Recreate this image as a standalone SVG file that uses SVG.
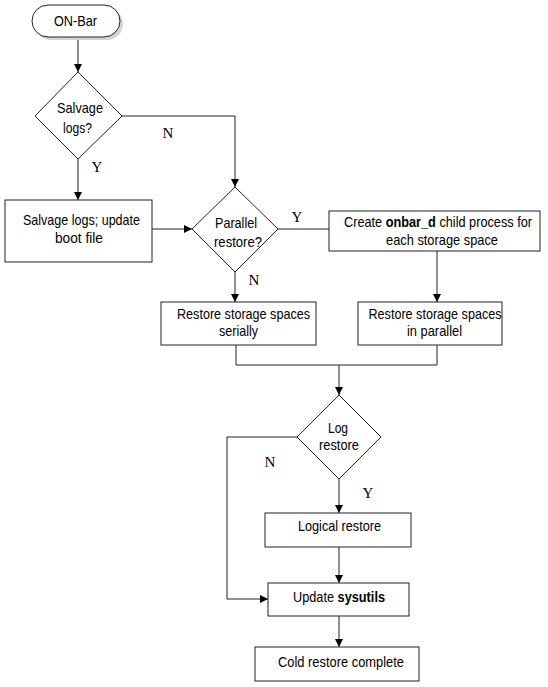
<svg xmlns="http://www.w3.org/2000/svg" width="548" height="687" viewBox="0 0 548 687">
<style>
.box{fill:#fff;stroke:#222;stroke-width:1}
.ln{fill:none;stroke:#222;stroke-width:1}
.t{font-family:"Liberation Sans",Arial,sans-serif;font-size:14.5px;fill:#000;text-anchor:middle}
.s{text-anchor:start}
.b{font-weight:bold}
.lbl{font-family:"Liberation Serif","Times New Roman",serif;font-size:15px;fill:#000;text-anchor:middle}
</style>
<defs>
<marker id="arr" markerUnits="userSpaceOnUse" markerWidth="9" markerHeight="9" refX="8" refY="4" orient="auto">
<path d="M0,0 L8,4 L0,8 z" fill="#000"/>
</marker>
</defs>
<rect width="548" height="687" fill="#fff"/>
<g id="connectors">
<path class="ln" d="M78,37 V72" marker-end="url(#arr)"/>
<path class="ln" d="M78,159 V200" marker-end="url(#arr)"/>
<path class="ln" d="M122,116 H235 V187" marker-end="url(#arr)"/>
<path class="ln" d="M152,229 H192" marker-end="url(#arr)"/>
<path class="ln" d="M278,229 H329"/>
<path class="ln" d="M437,251 V302" marker-end="url(#arr)"/>
<path class="ln" d="M235,272 V302" marker-end="url(#arr)"/>
<path class="ln" d="M236,345 V365 H437 V345"/>
<path class="ln" d="M339,365 V395" marker-end="url(#arr)"/>
<path class="ln" d="M297,437 H227 V599 H268" marker-end="url(#arr)"/>
<path class="ln" d="M339,479 V513" marker-end="url(#arr)"/>
<path class="ln" d="M339,547 V583" marker-end="url(#arr)"/>
<path class="ln" d="M339,616 V647" marker-end="url(#arr)"/>
<text class="lbl" x="168" y="138">N</text>
<text class="lbl" x="97" y="172">Y</text>
<text class="lbl" x="297" y="222">Y</text>
<text class="lbl" x="254" y="285">N</text>
<text class="lbl" x="270" y="467">N</text>
<text class="lbl" x="368" y="498">Y</text>
</g>
<g id="start">
<rect x="35" y="8" width="88" height="32" rx="16" fill="#d4d4d4"/>
<rect class="box" x="32" y="5" width="88" height="32" rx="16"/>
<text class="t" x="75.5" y="26" textLength="43" lengthAdjust="spacingAndGlyphs">ON-Bar</text>
</g>
<g id="salvage-decision">
<polygon class="box" points="78,72 122,116 78,159 35,116"/>
<text class="t" x="80" y="113" textLength="46" lengthAdjust="spacingAndGlyphs">Salvage</text>
<text class="t" x="77.5" y="133" textLength="29" lengthAdjust="spacingAndGlyphs">logs?</text>
</g>
<g id="salvage-box">
<rect class="box" x="5" y="200" width="147" height="62"/>
<text class="t" x="81.5" y="225" textLength="117" lengthAdjust="spacingAndGlyphs">Salvage logs; update</text>
<text class="t" x="79" y="243" textLength="48" lengthAdjust="spacingAndGlyphs">boot file</text>
</g>
<g id="parallel-decision">
<polygon class="box" points="235,187 278,229 235,272 192,229"/>
<text class="t" x="236" y="228" textLength="42" lengthAdjust="spacingAndGlyphs">Parallel</text>
<text class="t" x="238" y="247" textLength="48" lengthAdjust="spacingAndGlyphs">restore?</text>
</g>
<g id="create-box">
<rect class="box" x="329" y="211" width="211" height="40"/>
<text class="t s" x="344" y="227" textLength="38.2" lengthAdjust="spacingAndGlyphs">Create</text>
<text class="t s b" x="385.7" y="227" textLength="50.2" lengthAdjust="spacingAndGlyphs">onbar_d</text>
<text class="t s" x="439.4" y="227" textLength="92.6" lengthAdjust="spacingAndGlyphs">child process for</text>
<text class="t" x="442" y="245" textLength="112" lengthAdjust="spacingAndGlyphs">each storage space</text>
</g>
<g id="serial-box">
<rect class="box" x="161" y="302" width="155" height="43"/>
<text class="t" x="243.5" y="319" textLength="133" lengthAdjust="spacingAndGlyphs">Restore storage spaces</text>
<text class="t" x="238.5" y="336" textLength="39" lengthAdjust="spacingAndGlyphs">serially</text>
</g>
<g id="parallel-box">
<rect class="box" x="358" y="302" width="144" height="43"/>
<text class="t" x="435" y="319" textLength="133" lengthAdjust="spacingAndGlyphs">Restore storage spaces</text>
<text class="t" x="434.5" y="336" textLength="55" lengthAdjust="spacingAndGlyphs">in parallel</text>
</g>
<g id="log-decision">
<polygon class="box" points="339,395 381,437 339,479 297,437"/>
<text class="t" x="338" y="433" textLength="20" lengthAdjust="spacingAndGlyphs">Log</text>
<text class="t" x="339" y="450" textLength="40" lengthAdjust="spacingAndGlyphs">restore</text>
</g>
<g id="logical-box">
<rect class="box" x="265" y="513" width="146" height="34"/>
<text class="t" x="339.5" y="531" textLength="83" lengthAdjust="spacingAndGlyphs">Logical restore</text>
</g>
<g id="update-box">
<rect class="box" x="268" y="583" width="141" height="33"/>
<text class="t s" x="293" y="602" textLength="41" lengthAdjust="spacingAndGlyphs">Update</text>
<text class="t s b" x="337.6" y="602" textLength="47.4" lengthAdjust="spacingAndGlyphs">sysutils</text>
</g>
<g id="cold-box">
<rect class="box" x="255" y="647" width="164" height="34"/>
<text class="t" x="341" y="667" textLength="126" lengthAdjust="spacingAndGlyphs">Cold restore complete</text>
</g>
</svg>
